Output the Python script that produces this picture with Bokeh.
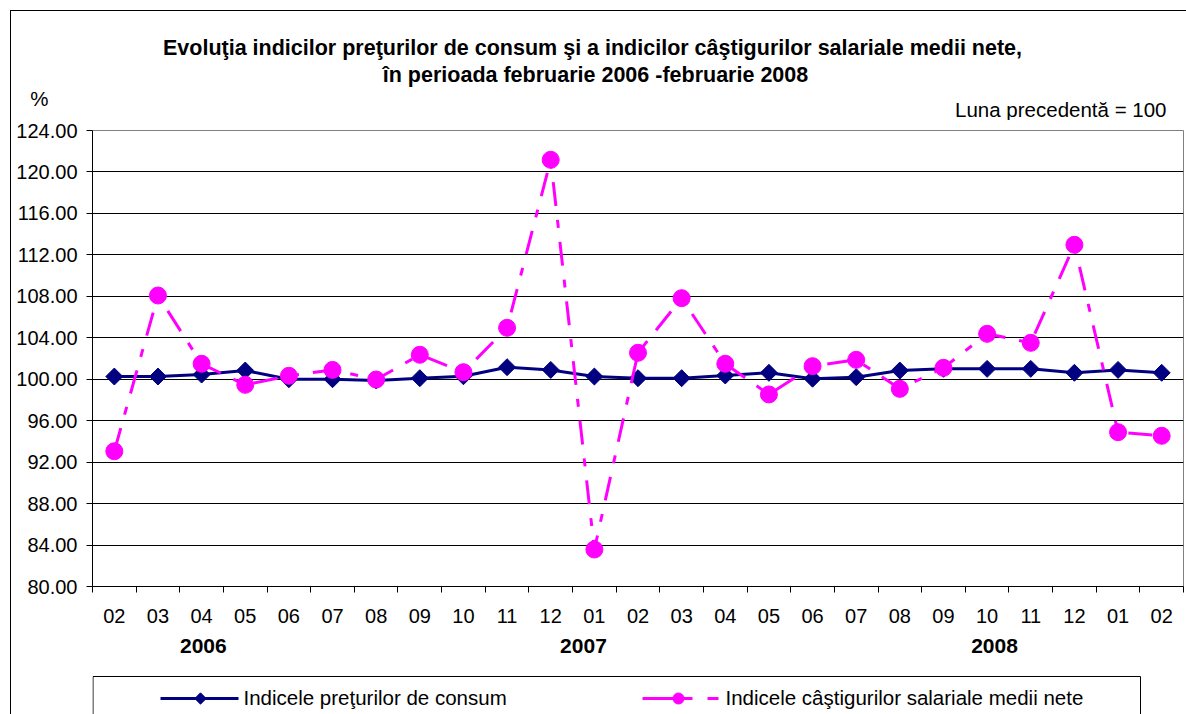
import numpy as np
from bokeh.plotting import figure
from bokeh.models import Range1d, FixedTicker, NumeralTickFormatter, LinearAxis
from bokeh.layouts import column
from bokeh.embed import file_html
from bokeh.resources import INLINE
from bokeh.core.properties import value

# ---------------- data ----------------
months = ["02", "03", "04", "05", "06", "07", "08", "09", "10", "11", "12",
          "01", "02", "03", "04", "05", "06", "07", "08", "09", "10", "11", "12",
          "01", "02"]
years = ["2006", "2007", "2008"]
year_pos = [2.54, 11.25, 20.67]          # position along the category axis
cpi = [100.26, 100.26, 100.45, 100.84, 100.00, 100.00, 99.88, 100.10, 100.29,
       101.16, 100.90, 100.26, 100.10, 100.10, 100.36, 100.62, 100.05, 100.20,
       100.84, 101.00, 101.00, 101.00, 100.62, 100.90, 100.62]
wages = [93.05, 108.08, 101.49, 99.46, 100.33, 100.90, 99.97, 102.36, 100.68,
         104.96, 121.17, 83.57, 102.55, 107.82, 101.49, 98.53, 101.26, 101.87,
         99.07, 101.10, 104.38, 103.51, 112.97, 94.89, 94.54]
y_ticks = [80, 84, 88, 92, 96, 100, 104, 108, 112, 116, 120, 124]

title1 = "Evoluţia indicilor preţurilor de consum şi a indicilor câştigurilor salariale medii nete,"
title2 = "în perioada februarie 2006 -februarie 2008"
unit_txt = "%"
base_txt = "Luna precedentă = 100"
name_cpi = "Indicele preţurilor de consum"
name_wages = "Indicele câştigurilor salariale medii nete"

# ---------------- style / layout ----------------
FONT = "Liberation Sans"
NAVY = "#000080"
MAGENTA = "#FF00FF"
W = 1186
H_HEAD = 120
H_MAIN = 514
H_STRIP = 80
FRAME_L, FRAME_R = 92, 1183

n = len(months)
xc = [i + 0.5 for i in range(n)]


def text_fig(height):
    # frame aligned with the chart frame; data units == page pixels
    f = figure(width=W, height=height, x_range=Range1d(FRAME_L, FRAME_R),
               y_range=Range1d(height, 0),
               x_axis_type=None, y_axis_type=None, output_backend="svg",
               toolbar_location=None, min_border_left=FRAME_L,
               min_border_right=W - FRAME_R, min_border_top=0, min_border_bottom=0,
               outline_line_color=None,
               background_fill_color=None, border_fill_color=None)
    f.grid.visible = False
    return f


def put_text(f, x, y, txt, align="center", bold=False, size="20.5px"):
    f.text([x], [y], text=[txt], text_font=value(FONT), text_font_size=size,
           text_font_style="bold" if bold else "normal",
           text_align=align, text_baseline="middle", text_color="black")


# header with titles
hd = text_fig(H_HEAD)
put_text(hd, 592, 47, title1, bold=True, size="21.5px")
put_text(hd, 595, 74, title2, bold=True, size="21.5px")
put_text(hd, 1166, 109, base_txt, align="right")
unit_axis = LinearAxis(ticker=FixedTicker(ticks=[98]),
                       major_label_overrides={98: unit_txt},
                       axis_line_color=None, major_tick_line_color=None,
                       minor_tick_line_color=None, major_tick_out=0, major_tick_in=0,
                       major_label_standoff=44, major_label_text_font=FONT,
                       major_label_text_font_size="20.5px",
                       major_label_text_color="black")
hd.add_layout(unit_axis, "left")

# main chart
p = figure(width=W, height=H_MAIN, x_range=Range1d(0, n), y_range=Range1d(80, 124),
           output_backend="svg", toolbar_location=None,
           min_border_left=FRAME_L, min_border_right=W - FRAME_R,
           min_border_top=10, min_border_bottom=48,
           outline_line_color="#808080", outline_line_width=1,
           background_fill_color="white", border_fill_color=None)

p.xgrid.visible = False
p.ygrid.ticker = FixedTicker(ticks=y_ticks)
p.ygrid.grid_line_color = "black"
p.ygrid.grid_line_width = 1

p.yaxis.ticker = FixedTicker(ticks=y_ticks)
p.yaxis.formatter = NumeralTickFormatter(format="0.00")
p.yaxis.major_tick_out = 6
p.yaxis.major_tick_in = 0
p.yaxis.minor_tick_line_color = None
p.yaxis.major_label_standoff = 9
p.yaxis.axis_line_color = "black"
p.yaxis.major_tick_line_color = "black"

p.xaxis.ticker = FixedTicker(ticks=xc, minor_ticks=list(range(n + 1)))
p.xaxis.major_label_overrides = {xv: m for xv, m in zip(xc, months)}
p.xaxis.major_tick_out = 0
p.xaxis.major_tick_in = 0
p.xaxis.minor_tick_out = 6
p.xaxis.minor_tick_in = 0
p.xaxis.minor_tick_line_color = "black"
p.xaxis.major_label_standoff = 16
p.xaxis.axis_line_color = "black"

for ax in (p.xaxis, p.yaxis):
    ax.major_label_text_font = FONT
    ax.major_label_text_font_size = "20px"
    ax.major_label_text_color = "black"

p.line(xc, cpi, line_color=NAVY, line_width=3)
p.scatter(xc, cpi, marker="square", angle=np.pi / 4, size=12,
          fill_color=NAVY, line_color=NAVY)
p.line(xc, wages, line_color=MAGENTA, line_width=3, line_dash="24 14 8 14")
p.scatter(xc, wages, marker="circle", size=17, fill_color=MAGENTA, line_color=MAGENTA)

# strip below: year labels + legend
st = text_fig(H_STRIP)
cat_w = (FRAME_R - FRAME_L) / n
for yr, pos in zip(years, year_pos):
    put_text(st, FRAME_L + pos * cat_w, 11, yr, bold=True, size="21px")

st.multi_line([[92.5, 92.5], [92.5, 1140], [1140, 1140]],
              [[H_STRIP + 10, 42], [42, 42], [42, H_STRIP + 10]],
              line_color="black", line_width=1)
st.line([160, 238], [64, 64], line_color=NAVY, line_width=3)
st.scatter([200], [64], marker="square", angle=np.pi / 4, size=8,
           fill_color=NAVY, line_color=NAVY)
put_text(st, 243, 63, name_cpi, align="left")
st.line([642, 718], [64, 64], line_color=MAGENTA, line_width=3, line_dash="50 15 11 15")
st.scatter([678], [64], marker="circle", size=11, fill_color=MAGENTA, line_color=MAGENTA)
put_text(st, 725, 63, name_wages, align="left")

frame_css = ("linear-gradient(#000,#000) 10px 10px / 1px 100% no-repeat, "
             "linear-gradient(#000,#000) 10px 10px / 100% 1px no-repeat, white")
layout = column(hd, p, st, styles={"background": frame_css})

open("out.html", "w").write(file_html(layout, INLINE))
